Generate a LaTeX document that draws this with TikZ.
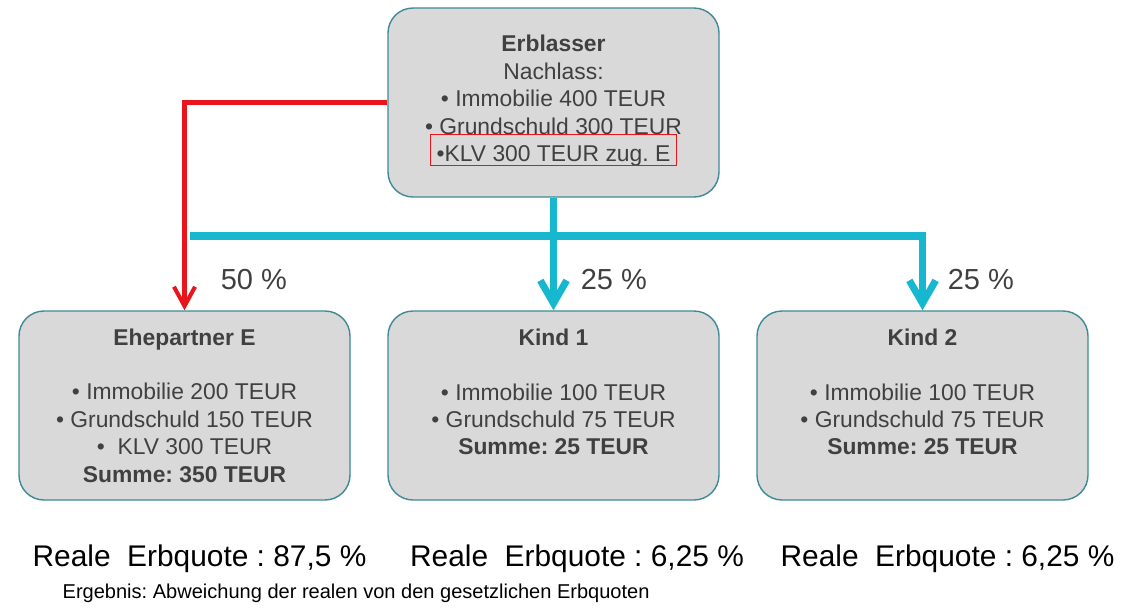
\documentclass[tikz,border=0pt]{standalone}
\usepackage{fontspec}
\setmainfont{Liberation Sans}
\frenchspacing
\usepackage{xcolor}
\usetikzlibrary{arrows.meta,positioning}
\definecolor{boxgray}{RGB}{217,217,217}
\definecolor{boxline}{RGB}{62,138,150}
\definecolor{linecyan}{RGB}{23,184,207}
\definecolor{linered}{RGB}{232,22,28}
\definecolor{textgray}{RGB}{64,64,64}
\tikzstyle{person} = [rectangle, rounded corners=0.5cm, minimum width=6.62cm, minimum height=3.78cm, align=center, draw=boxline, line width=0.8pt, fill=boxgray, text=textgray, font=\fontsize{13}{15.6}\selectfont, inner sep=0pt]
\tikzstyle{quote} = [inner sep=0pt, text=textgray, font=\fontsize{16.5}{19.8}\selectfont]
\tikzstyle{real} = [inner sep=0pt, font=\fontsize{17}{20.4}\selectfont]
\tikzstyle{redarrow} = [draw=linered, line width=2.3pt, -{Straight Barb[length=11pt,width=12pt]}]
\tikzstyle{cyanarrow} = [draw=linecyan, line width=4pt, -{Straight Barb[length=13pt,width=15pt]}]

\begin{document}
\begin{tikzpicture}[node distance=7.38cm]
\useasboundingbox (0,0) rectangle (22.66,-12.14);

\node (erbl) [person] at (11.07,-2.05) {\textbf{Erblasser}\\Nachlass:\\• Immobilie 400 TEUR\\• Grundschuld 300 TEUR\\{\setlength{\fboxsep}{1pt}\setlength{\fboxrule}{0.6pt}\smash{\fcolorbox{linered}{boxgray}{\raisebox{0pt}[14pt][1pt]{\hspace{2pt}•KLV 300 TEUR zug. E\hspace{2pt}}}}\strut}};

\node (kind1) [person, below of=erbl, node distance=6.06cm] {\textbf{Kind 1}\\ \\• Immobilie 100 TEUR\\• Grundschuld 75 TEUR\\\textbf{Summe: 25 TEUR}\\ \mbox{}};
\node (ehe) [person, left of=kind1] {\textbf{Ehepartner E}\\ \\• Immobilie 200 TEUR\\• Grundschuld 150 TEUR\\• \ KLV 300 TEUR\\\textbf{Summe: 350 TEUR}};
\node (kind2) [person, right of=kind1] {\textbf{Kind 2}\\ \\• Immobilie 100 TEUR\\• Grundschuld 75 TEUR\\\textbf{Summe: 25 TEUR}\\ \mbox{}};

\node (q50) [quote, above right=0.4cm and 0.72cm of ehe.north] {50 \%};
\node (q25a) [quote, above right=0.4cm and 0.54cm of kind1.north] {25 \%};
\node (q25b) [quote, above right=0.4cm and 0.5cm of kind2.north] {25 \%};

\node (real1) [real, below=0.88cm of ehe, xshift=0.3cm] {Reale\ \ Erbquote : 87,5 \%};
\node (real2) [real, below=0.88cm of kind1, xshift=0.47cm] {Reale\ \ Erbquote : 6,25 \%};
\node (real3) [real, below=0.88cm of kind2, xshift=0.5cm] {Reale\ \ Erbquote : 6,25 \%};
\node (result) [inner sep=0pt, font=\fontsize{11.4}{13.7}\selectfont, below right=1.66cm and 0.88cm of ehe.south west] {Ergebnis: Abweichung der realen von den gesetzlichen Erbquoten};

\coordinate (bar) at (3.8,-4.72);

\draw [redarrow] (erbl.west) -| (ehe.north);
\draw [cyanarrow] (erbl.south) -- (kind1.north);
\draw [cyanarrow] (bar) -| (kind2.north);

\end{tikzpicture}
\end{document}
